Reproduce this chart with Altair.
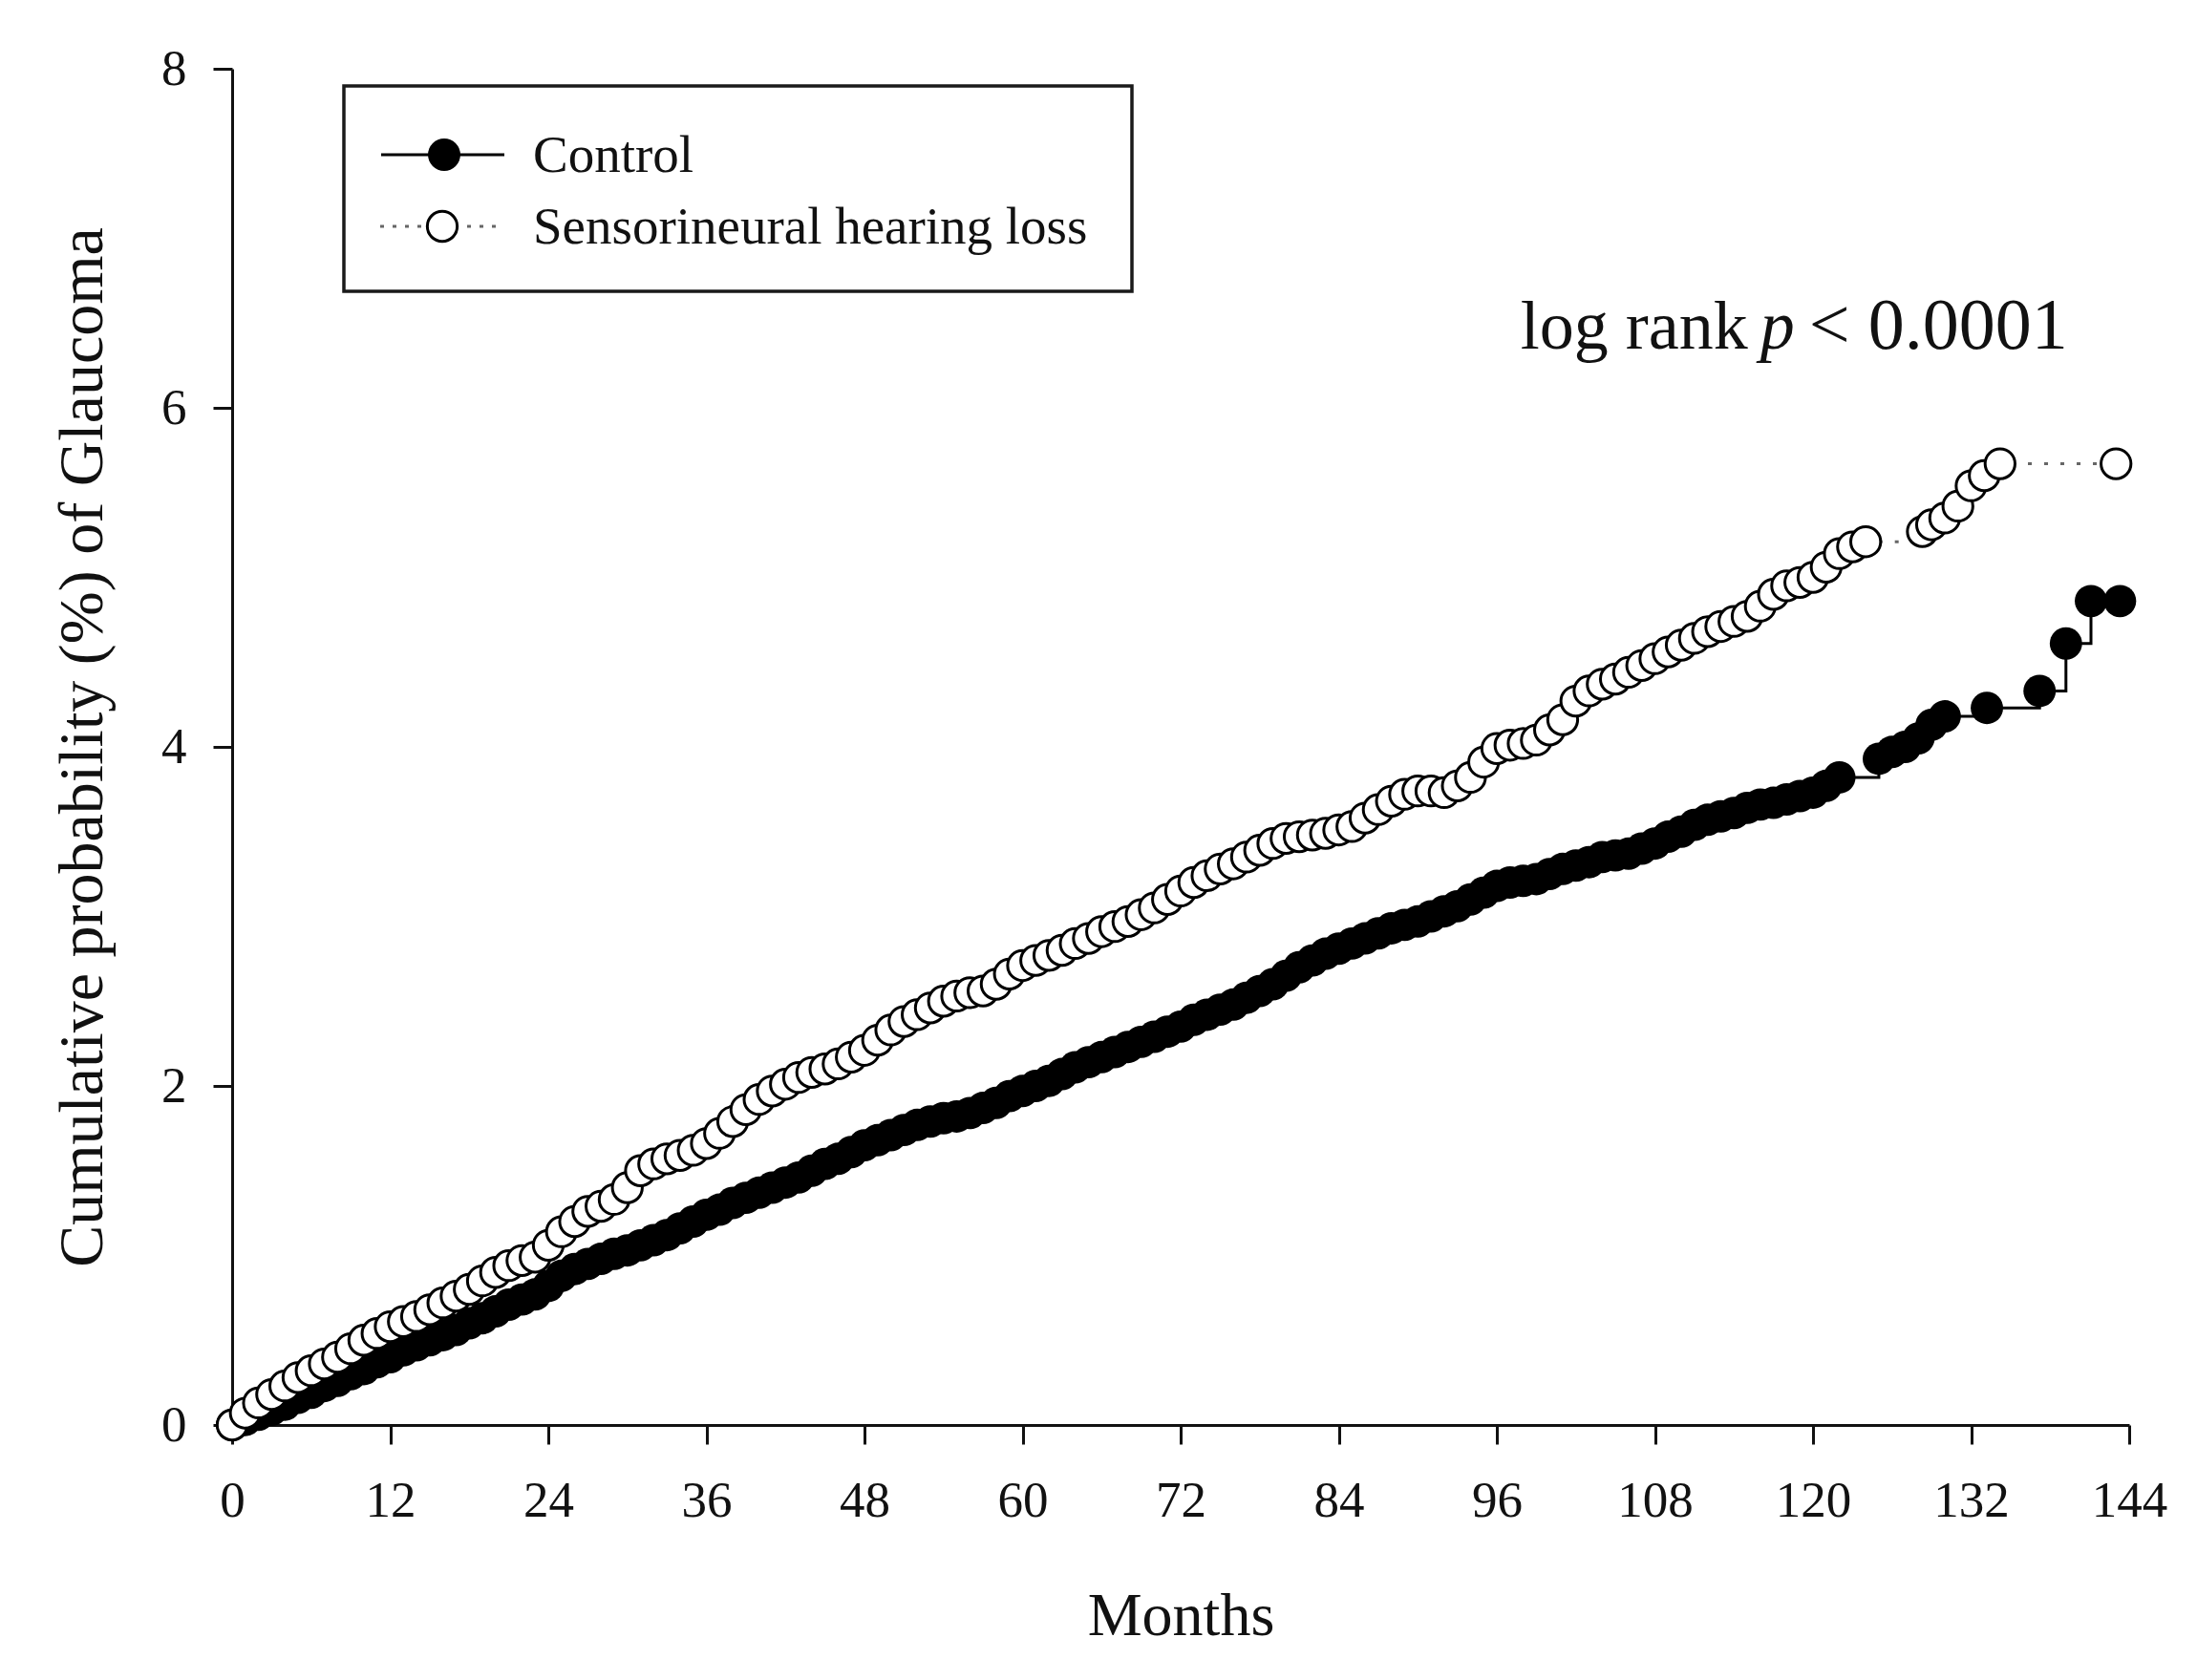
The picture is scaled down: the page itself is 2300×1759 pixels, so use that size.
import altair as alt
import pandas as pd

FONT = "Liberation Serif"

# ---- data ----
ctrl_months = list(range(0, 123)) + [125, 126, 127, 128, 129, 130, 133.2, 137.2, 139.2, 141.1, 143.3]
ctrl_values = [
    0.00, 0.03, 0.06, 0.09, 0.12, 0.16, 0.19, 0.23, 0.26, 0.30,
    0.33, 0.37, 0.40, 0.44, 0.47, 0.50, 0.53, 0.56, 0.60, 0.63,
    0.67, 0.71, 0.74, 0.77, 0.82, 0.88, 0.92, 0.95, 0.98, 1.01,
    1.03, 1.06, 1.09, 1.12, 1.16, 1.20, 1.24, 1.27, 1.31, 1.34,
    1.37, 1.40, 1.43, 1.46, 1.50, 1.54, 1.57, 1.61, 1.65, 1.68,
    1.71, 1.74, 1.77, 1.79, 1.81, 1.82, 1.84, 1.87, 1.90, 1.94,
    1.97, 2.00, 2.03, 2.07, 2.11, 2.14, 2.17, 2.20, 2.23, 2.26,
    2.29, 2.32, 2.35, 2.39, 2.42, 2.45, 2.48, 2.52, 2.56, 2.60,
    2.65, 2.70, 2.74, 2.78, 2.81, 2.84, 2.87, 2.90, 2.93, 2.95,
    2.97, 3.00, 3.03, 3.06, 3.10, 3.14, 3.18, 3.20, 3.21, 3.22,
    3.25, 3.28, 3.30, 3.32, 3.35, 3.36, 3.37, 3.40, 3.43, 3.47,
    3.50, 3.54, 3.57, 3.59, 3.61, 3.64, 3.66, 3.67, 3.69, 3.71,
    3.73, 3.77, 3.82,
    3.93, 3.97, 4.00, 4.05, 4.13, 4.18, 4.23, 4.33, 4.61, 4.86, 4.86,
]

snhl_months = list(range(0, 125)) + [128.3, 129, 130, 131, 132, 133, 134.2, 143]
snhl_values = [
    0.00, 0.07, 0.13, 0.18, 0.23, 0.28, 0.32, 0.36, 0.40, 0.45,
    0.50, 0.54, 0.58, 0.61, 0.64, 0.68, 0.72, 0.76, 0.80, 0.85,
    0.90, 0.94, 0.97, 0.99, 1.06, 1.14, 1.20, 1.26, 1.29, 1.33,
    1.40, 1.50, 1.54, 1.57, 1.59, 1.62, 1.66, 1.72, 1.79, 1.86,
    1.92, 1.97, 2.01, 2.05, 2.08, 2.10, 2.13, 2.17, 2.21, 2.27,
    2.33, 2.38, 2.42, 2.46, 2.50, 2.53, 2.55, 2.56, 2.60, 2.66,
    2.71, 2.74, 2.77, 2.80, 2.84, 2.87, 2.91, 2.94, 2.97, 3.01,
    3.05, 3.10, 3.15, 3.20, 3.24, 3.28, 3.31, 3.35, 3.39, 3.43,
    3.46, 3.47, 3.48, 3.49, 3.51, 3.53, 3.58, 3.63, 3.68, 3.72,
    3.74, 3.74, 3.73, 3.77, 3.82, 3.91, 3.99, 4.01, 4.02, 4.04,
    4.10, 4.16, 4.27, 4.33, 4.37, 4.40, 4.44, 4.48, 4.52, 4.56,
    4.60, 4.64, 4.68, 4.71, 4.74, 4.77, 4.83, 4.90, 4.95, 4.97,
    5.00, 5.06, 5.14, 5.18, 5.21,
    5.27, 5.31, 5.35, 5.42, 5.54, 5.60, 5.67, 5.67,
]

x_ticks = list(range(0, 145, 12))
y_ticks = [0, 2, 4, 6, 8]
legend_labels = ["Control", "Sensorineural hearing loss"]
annot_parts = ["log rank", "p", "< 0.0001"]
annot_x = [97.8, 116.0, 119.7]
annot_y = [6.35, 6.35, 6.35]
annot_sizes = [72, 72, 76]

ctrl_df = pd.DataFrame({"month": ctrl_months, "value": ctrl_values})
snhl_df = pd.DataFrame({"month": snhl_months, "value": snhl_values})

x_enc = alt.X(
    "month:Q",
    scale=alt.Scale(domain=[0, 144], nice=False, zero=False),
    axis=alt.Axis(
        title="Months", values=x_ticks, grid=False, tickSize=20, tickWidth=3,
        domainWidth=3, domainColor="#111111", tickColor="#111111",
        labelFont=FONT, labelFontSize=53, labelColor="#111111", labelPadding=33,
        labelFlush=False, labelOverlap=False,
        titleFont=FONT, titleFontSize=64, titleFontWeight="normal",
        titleColor="#111111", titlePadding=62,
    ),
)
y_enc = alt.Y(
    "value:Q",
    scale=alt.Scale(domain=[0, 8], nice=False),
    axis=alt.Axis(
        title="Cumulative probability (%) of Glaucoma", values=y_ticks, format="d",
        grid=False, tickSize=20, tickWidth=3, domainWidth=3,
        domainColor="#111111", tickColor="#111111",
        labelFont=FONT, labelFontSize=53, labelColor="#111111", labelPadding=28,
        labelFlush=False, labelOverlap=False,
        titleFont=FONT, titleFontSize=66, titleFontWeight="normal",
        titleColor="#111111", titlePadding=48,
    ),
)

FILLED_SIZE = 1150
OPEN_SIZE = 980

ctrl_line = alt.Chart(ctrl_df).mark_line(
    interpolate="step-after", color="#000000", strokeWidth=3
).encode(x=x_enc, y=y_enc)
ctrl_pts = alt.Chart(ctrl_df).mark_point(
    shape="circle", filled=True, color="#000000", size=FILLED_SIZE, opacity=1
).encode(x="month:Q", y="value:Q")

snhl_line = alt.Chart(snhl_df).mark_line(
    interpolate="step-after", color="#666666", strokeWidth=3, strokeDash=[4, 13]
).encode(x="month:Q", y="value:Q")
snhl_pts = alt.Chart(snhl_df).mark_point(
    shape="circle", filled=True, fill="#ffffff", stroke="#000000",
    strokeWidth=3, size=OPEN_SIZE, opacity=1
).encode(x="month:Q", y="value:Q")

one = pd.DataFrame({"k": [0]})

legend_box = alt.Chart(one).mark_rect(
    fill="#ffffff", stroke="#1a1a1a", strokeWidth=3.5
).encode(x=alt.value(117), x2=alt.value(942), y=alt.value(18), y2=alt.value(233))

leg_line1 = alt.Chart(one).mark_rule(color="#000000", strokeWidth=3).encode(
    x=alt.value(156), x2=alt.value(285), y=alt.value(90))
leg_pt1 = alt.Chart(one).mark_point(
    shape="circle", filled=True, color="#000000", size=FILLED_SIZE, opacity=1
).encode(x=alt.value(222), y=alt.value(90))
leg_txt1 = alt.Chart(one).mark_text(
    align="left", baseline="alphabetic", font=FONT, fontSize=55, color="#111111",
    text=legend_labels[0]
).encode(x=alt.value(315), y=alt.value(108))

leg_line2 = alt.Chart(one).mark_rule(color="#666666", strokeWidth=3, strokeDash=[4, 9]).encode(
    x=alt.value(155), x2=alt.value(277), y=alt.value(165))
leg_pt2 = alt.Chart(one).mark_point(
    shape="circle", filled=True, fill="#ffffff", stroke="#000000",
    strokeWidth=3, size=OPEN_SIZE, opacity=1
).encode(x=alt.value(220), y=alt.value(165))
leg_txt2 = alt.Chart(one).mark_text(
    align="left", baseline="alphabetic", font=FONT, fontSize=55, color="#111111",
    text=legend_labels[1]
).encode(x=alt.value(315), y=alt.value(183))

annot_df = pd.DataFrame({"month": annot_x, "value": annot_y, "t": annot_parts,
                         "fs": annot_sizes,
                         "style": ["normal", "italic", "normal"]})
annot_normal = alt.Chart(annot_df).transform_filter(
    alt.datum.style == "normal"
).mark_text(
    align="left", baseline="alphabetic", font=FONT, color="#111111"
).encode(x="month:Q", y="value:Q", text="t:N",
         size=alt.Size("fs:Q", scale=None, legend=None))
annot_italic = alt.Chart(annot_df).transform_filter(
    alt.datum.style == "italic"
).mark_text(
    align="left", baseline="alphabetic", font=FONT, fontStyle="italic",
    color="#111111"
).encode(x="month:Q", y="value:Q", text="t:N",
         size=alt.Size("fs:Q", scale=None, legend=None))

chart = alt.layer(
    ctrl_line, ctrl_pts, snhl_line, snhl_pts,
    legend_box, leg_line1, leg_pt1, leg_txt1, leg_line2, leg_pt2, leg_txt2,
    annot_normal, annot_italic,
).properties(
    width=1986, height=1420,
    padding={"left": 235, "top": 64, "right": 55, "bottom": 245},
    autosize=alt.AutoSizeParams(type="none"),
    background="#ffffff",
).configure_view(stroke=None)

chart.save("out.html", embed_options={"renderer": "svg", "actions": False})
